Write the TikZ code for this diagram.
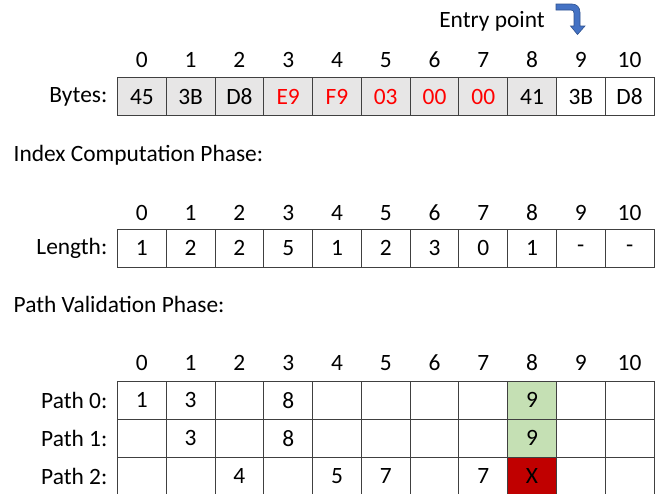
\documentclass[tikz,border=0pt]{standalone}
\usepackage{fontspec}
\setmainfont{Carlito}
\definecolor{cellgray}{HTML}{E7E6E6}
\definecolor{okgreen}{HTML}{C5E0B4}
\definecolor{badred}{HTML}{C00000}
\definecolor{arrowblue}{HTML}{4472C4}
\definecolor{arrowedge}{HTML}{2F528F}
\definecolor{gridline}{HTML}{404040}
\begin{document}
\begin{tikzpicture}[x=1pt,y=-1pt,
  every node/.style={font=\fontsize{23.4}{28}\selectfont, inner sep=0pt},
  cell/.style={draw=gridline, line width=0.9pt, minimum width=48.77pt, minimum height=38pt, anchor=center},
  colnum/.style={anchor=center},
  rowlabel/.style={anchor=east},
  heading/.style={anchor=west}]
\useasboundingbox (0,0) rectangle (659,493);
\pgfmathsetmacro{\cw}{48.77}
\pgfmathsetmacro{\xo}{117.5}
% Entry point
\node[anchor=center] (entry) at (492,21) {Entry point};
\draw[fill=arrowblue, draw=arrowedge, line width=0.6pt]
  (556,4) -- (572,4) .. controls (577,4) and (580,7.5) .. (580,12.5) -- (580,26)
  -- (585,26) -- (577.5,34.5) -- (570.5,26) -- (574,26) -- (574,13)
  .. controls (574,11.2) and (572.8,10) .. (571,10) -- (556,10) -- cycle;
% Bytes row
\foreach \i/\v/\f/\c in {0/45/cellgray/black,1/3B/cellgray/black,2/D8/cellgray/black,3/E9/cellgray/red,4/F9/cellgray/red,5/03/cellgray/red,6/00/cellgray/red,7/00/cellgray/red,8/41/cellgray/black,9/3B/white/black,10/D8/white/black}{
  \node[colnum] (bn\i) at ({\xo+\cw*(\i+0.5)},60) {\i};
  \node[cell, fill=\f, text=\c] (b\i) at ({\xo+\cw*(\i+0.5)},96.7) {\v};
}
\node[rowlabel] (bytes) at (107.5,96.7) {Bytes:};
% Index computation
\node[heading] (icp) at (13.5,155) {Index Computation Phase:};
\foreach \i/\v in {0/1,1/2,2/2,3/5,4/1,5/2,6/3,7/0,8/1,9/-,10/-}{
  \node[colnum] (ln\i) at ({\xo+\cw*(\i+0.5)},213) {\i};
  \node[cell] (l\i) at ({\xo+\cw*(\i+0.5)},248.3) {\v};
}
\node[rowlabel] (length) at (107.5,248.3) {Length:};
% Path validation
\node[heading] (pvp) at (13.5,304) {Path Validation Phase:};
\foreach \i in {0,...,10}{
  \node[colnum] (pn\i) at ({\xo+\cw*(\i+0.5)},363) {\i};
}
\foreach \i/\v/\f in {0/1/white,1/3/white,2//white,3/8/white,4//white,5//white,6//white,7//white,8/9/okgreen,9//white,10//white}{
  \node[cell, fill=\f] (pa\i) at ({\xo+\cw*(\i+0.5)},400.2) {\v};
}
\foreach \i/\v/\f in {0//white,1/3/white,2//white,3/8/white,4//white,5//white,6//white,7//white,8/9/okgreen,9//white,10//white}{
  \node[cell, fill=\f] (pb\i) at ({\xo+\cw*(\i+0.5)},438.3) {\v};
}
\foreach \i/\v/\f in {0//white,1//white,2/4/white,3//white,4/5/white,5/7/white,6//white,7/7/white,8/X/badred,9//white,10//white}{
  \node[cell, fill=\f] (pc\i) at ({\xo+\cw*(\i+0.5)},476.3) {\v};
}
\node[rowlabel] (path0) at (107.5,400.2) {Path 0:};
\node[rowlabel] (path1) at (107.5,438.3) {Path 1:};
\node[rowlabel] (path2) at (107.5,476.3) {Path 2:};
\end{tikzpicture}
\end{document}
